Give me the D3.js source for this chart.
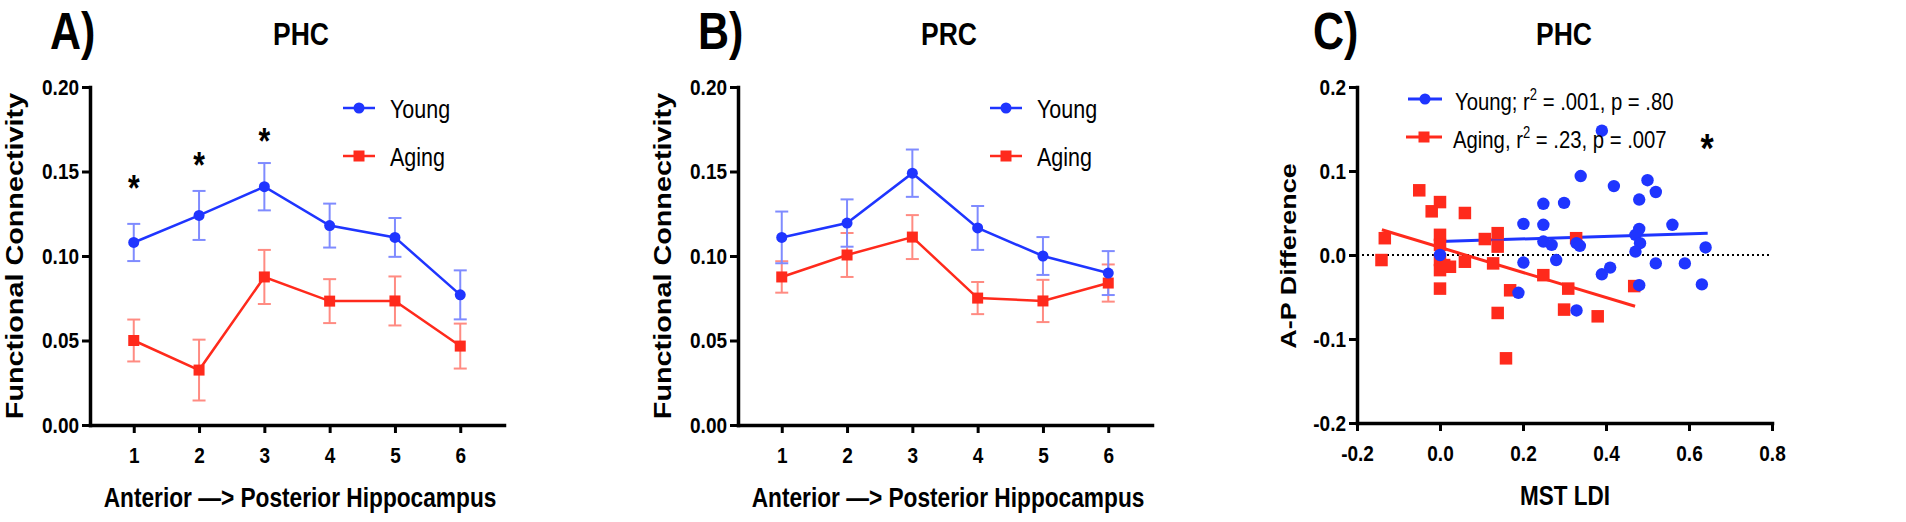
<!DOCTYPE html>
<html>
<head>
<meta charset="utf-8">
<script src="https://cdn.jsdelivr.net/npm/d3@7"></script>
<style>
body { margin: 0; background: #fff; }
svg { display: block; }
text { font-family: "Liberation Sans", Arial, sans-serif; fill: #000; }
</style>
</head>
<body>
<svg id="chart" width="1906" height="522"></svg>
<script>
// ---- data ----
var segments = [1, 2, 3, 4, 5, 6];

var phcYoung    = [0.108, 0.124, 0.141, 0.118, 0.111, 0.077];
var phcYoungSem = [0.011, 0.0145, 0.014, 0.013, 0.0115, 0.0145];
var phcAging    = [0.050, 0.0325, 0.0876, 0.0733, 0.0734, 0.0467];
var phcAgingSem = [0.0124, 0.018, 0.016, 0.013, 0.0145, 0.0133];

var prcYoung    = [0.111, 0.1195, 0.149, 0.1166, 0.100, 0.0899];
var prcYoungSem = [0.0153, 0.014, 0.014, 0.013, 0.0112, 0.013];
var prcAging    = [0.0876, 0.1006, 0.1112, 0.0751, 0.0734, 0.084];
var prcAgingSem = [0.0093, 0.013, 0.013, 0.0095, 0.0125, 0.011];

var phcStars     = [1, 2, 3];
var phcStarLevel = [0.143, 0.157, 0.171];

var fcTicks   = [0, 0.05, 0.10, 0.15, 0.20];
var ldiTicks  = [-0.2, 0, 0.2, 0.4, 0.6, 0.8];
var diffTicks = [-0.2, -0.1, 0, 0.1, 0.2];

var youngLDI  = [0.390, 0.339, 0.419, 0.500, 0.520, 0.480, 0.249, 0.299, 0.201, 0.249, 0.560,
                 0.249, 0.269, 0.329, 0.337, 0.480, 0.471, 0.482, 0.471, 0.640, 0.000,
                 0.201, 0.280, 0.390, 0.410, 0.520, 0.590, 0.189, 0.329, 0.480, 0.631];
var youngDiff = [0.148, 0.094, 0.082, 0.089, 0.075, 0.066, 0.061, 0.062, 0.037, 0.036, 0.036,
                 0.016, 0.012, 0.014, 0.011, 0.031, 0.024, 0.014, 0.004, 0.009, 0.000,
                 -0.009, -0.006, -0.023, -0.015, -0.010, -0.010, -0.045, -0.066, -0.036, -0.035];

var agingLDI  = [-0.050, 0.000, -0.020, 0.060, -0.133, 0.000, 0.108, 0.139, 0.139, 0.328,
                 -0.141, 0.000, 0.000, 0.024, 0.010, 0.060, 0.128, 0.169, 0.139, 0.159,
                 0.249, 0.309, 0.299, 0.380, 0.468, 0.000, 0.000];
var agingDiff = [0.077, 0.063, 0.052, 0.050, 0.020, 0.024, 0.019, 0.026, 0.010, 0.020,
                 -0.006, -0.006, -0.018, -0.014, -0.012, -0.008, -0.010, -0.042, -0.069, -0.123,
                 -0.024, -0.040, -0.065, -0.073, -0.037, -0.040, 0.012];

var youngFitX = [0.0, 0.645], youngFitY = [0.016, 0.026];
var agingFitX = [-0.14, 0.47], agingFitY = [0.030, -0.061];

// ---- styling ----
var BLUE = "#1f35ff", RED = "#ff2a1c";
var BLUE_ERR = "#7f8bff", RED_ERR = "#ff8b82";
var K = 1.2; // glyphs in the figure are a bit taller than wide

var svg = d3.select("#chart");

function txt(parent, x, y, s, fs, weight, anchor, rot) {
    return parent.append("text")
        .attr("transform", "translate(" + x + "," + y + ") scale(1," + K + ")" + (rot ? " rotate(-90)" : ""))
        .attr("font-size", fs)
        .attr("font-weight", weight || "bold")
        .attr("text-anchor", anchor || "start")
        .text(s);
}

function styleAxis(g) {
    g.attr("font-family", null).attr("font-size", 19).attr("font-weight", "bold");
    g.select(".domain").attr("stroke", "#000").attr("stroke-width", 3.5).attr("stroke-linecap", "square");
    g.selectAll(".tick line").attr("stroke", "#000").attr("stroke-width", 3);
    g.selectAll(".tick text").attr("fill", "#000")
        .attr("transform", "scale(1," + K + ")");
}

function square(sel, x, y, s, color) {
    sel.attr("x", function(d, i) { return x(d, i) - s / 2; })
       .attr("y", function(d, i) { return y(d, i) - s / 2; })
       .attr("width", s).attr("height", s)
       .attr("fill", color);
}

function linePanel(left, title, letter, young, youngSem, aging, agingSem, legendX) {
    var x = d3.scaleLinear().domain([0.33, 6.67]).range([left, left + 414]);
    var y = d3.scaleLinear().domain([0, 0.2]).range([425, 87]);
    var g = svg.append("g");

    var series = [
        { mean: aging, sem: agingSem, color: RED, err: RED_ERR, shape: "square" },
        { mean: young, sem: youngSem, color: BLUE, err: BLUE_ERR, shape: "circle" }
    ];

    series.forEach(function(s) {
        var eb = g.append("g").attr("stroke", s.err).attr("stroke-width", 2).attr("fill", "none");
        segments.forEach(function(p, i) {
            var cx = x(p), top = y(s.mean[i] + s.sem[i]), bot = y(s.mean[i] - s.sem[i]);
            eb.append("line").attr("x1", cx).attr("x2", cx).attr("y1", top).attr("y2", bot);
            eb.append("line").attr("x1", cx - 6.5).attr("x2", cx + 6.5).attr("y1", top).attr("y2", top);
            eb.append("line").attr("x1", cx - 6.5).attr("x2", cx + 6.5).attr("y1", bot).attr("y2", bot);
        });
    });

    series.forEach(function(s) {
        g.append("path")
            .datum(segments)
            .attr("fill", "none").attr("stroke", s.color).attr("stroke-width", 2.5)
            .attr("d", d3.line().x(function(d) { return x(d); })
                               .y(function(d, i) { return y(s.mean[i]); }));
        if (s.shape == "circle") {
            g.selectAll(null).data(segments).enter().append("circle")
                .attr("cx", function(d) { return x(d); })
                .attr("cy", function(d, i) { return y(s.mean[i]); })
                .attr("r", 5.5).attr("fill", s.color);
        } else {
            g.selectAll(null).data(segments).enter().append("rect")
                .call(square, function(d) { return x(d); }, function(d, i) { return y(s.mean[i]); }, 11, s.color);
        }
    });

    g.append("g").attr("transform", "translate(" + left + ",0)")
        .call(d3.axisLeft(y).tickValues(fcTicks).tickFormat(d3.format(".2f")).tickSize(8).tickSizeOuter(0).tickPadding(3))
        .call(styleAxis);
    g.append("g").attr("transform", "translate(0,425)")
        .call(d3.axisBottom(x).tickValues(segments).tickFormat(d3.format("d")).tickSize(8).tickSizeOuter(0).tickPadding(10))
        .call(styleAxis);

    // legend
    var ly = [108, 156];
    g.append("line").attr("x1", legendX).attr("x2", legendX + 32).attr("y1", ly[0]).attr("y2", ly[0])
        .attr("stroke", BLUE).attr("stroke-width", 2.5);
    g.append("circle").attr("cx", legendX + 16).attr("cy", ly[0]).attr("r", 5.5).attr("fill", BLUE);
    g.append("line").attr("x1", legendX).attr("x2", legendX + 32).attr("y1", ly[1]).attr("y2", ly[1])
        .attr("stroke", RED).attr("stroke-width", 2.5);
    g.append("rect").attr("x", legendX + 10.5).attr("y", ly[1] - 5.5).attr("width", 11).attr("height", 11).attr("fill", RED);
    txt(g, legendX + 47, ly[0] + 10, "Young", 21.5, "normal");
    txt(g, legendX + 47, ly[1] + 10, "Aging", 21.5, "normal");

    // titles
    var mid = (x.range()[0] + x.range()[1]) / 2;
    txt(g, mid + 4, 45, title, 26.5, "bold", "middle");
    txt(g, left - 40, 49, letter, 43, "bold");
    txt(g, left - 67, 256, "Functional Connectivity", 24, "bold", "middle", true);
    txt(g, mid + 3, 507, "Anterior \u2014> Posterior Hippocampus", 22.7, "bold", "middle");

    return { x: x, y: y, g: g };
}

var A = linePanel(90, "PHC", "A)", phcYoung, phcYoungSem, phcAging, phcAgingSem, 343);
linePanel(738, "PRC", "B)", prcYoung, prcYoungSem, prcAging, prcAgingSem, 990);

// significance stars on panel A
phcStars.forEach(function(p, i) {
    txt(A.g, A.x(p), A.y(phcStarLevel[i]) + 0.5 * 30 * K, "*", 30, "bold", "middle");
});

// ---- panel C: scatter ----
(function() {
    var x = d3.scaleLinear().domain([-0.2, 0.8]).range([1357, 1772]);
    var y = d3.scaleLinear().domain([-0.2, 0.2]).range([423, 87]);
    var g = svg.append("g");

    g.append("line").attr("x1", x(-0.2)).attr("x2", x(0.8)).attr("y1", y(0)).attr("y2", y(0))
        .attr("stroke", "#000").attr("stroke-width", 2).attr("stroke-dasharray", "2,3");

    g.append("line").attr("x1", x(youngFitX[0])).attr("x2", x(youngFitX[1]))
        .attr("y1", y(youngFitY[0])).attr("y2", y(youngFitY[1]))
        .attr("stroke", BLUE).attr("stroke-width", 3);
    g.append("line").attr("x1", x(agingFitX[0])).attr("x2", x(agingFitX[1]))
        .attr("y1", y(agingFitY[0])).attr("y2", y(agingFitY[1]))
        .attr("stroke", RED).attr("stroke-width", 3);

    g.selectAll(".ag").data(agingLDI).enter().append("rect")
        .call(square, function(d) { return x(d); }, function(d, i) { return y(agingDiff[i]); }, 12.5, RED);
    g.selectAll(".yg").data(youngLDI).enter().append("circle")
        .attr("cx", function(d) { return x(d); })
        .attr("cy", function(d, i) { return y(youngDiff[i]); })
        .attr("r", 6.2).attr("fill", BLUE);

    g.append("g").attr("transform", "translate(1357,0)")
        .call(d3.axisLeft(y).tickValues(diffTicks).tickFormat(function(d) { return d.toFixed(1); })
              .tickSize(8).tickSizeOuter(0).tickPadding(3))
        .call(styleAxis);
    g.append("g").attr("transform", "translate(0,423)")
        .call(d3.axisBottom(x).tickValues(ldiTicks).tickFormat(function(d) { return d.toFixed(1); })
              .tickSize(8).tickSizeOuter(0).tickPadding(10))
        .call(styleAxis);

    // legend
    g.append("line").attr("x1", 1408).attr("x2", 1442).attr("y1", 99).attr("y2", 99)
        .attr("stroke", BLUE).attr("stroke-width", 3);
    g.append("circle").attr("cx", 1425).attr("cy", 99).attr("r", 5.5).attr("fill", BLUE);
    g.append("line").attr("x1", 1406).attr("x2", 1442).attr("y1", 137).attr("y2", 137)
        .attr("stroke", RED).attr("stroke-width", 3);
    g.append("rect").attr("x", 1418.5).attr("y", 131.5).attr("width", 11).attr("height", 11).attr("fill", RED);

    var t1 = txt(g, 1455, 110, "Young; r", 20.3, "normal");
    t1.append("tspan").attr("font-size", 13).attr("dy", -8).text("2");
    t1.append("tspan").attr("dy", 8).text(" = .001, p = .80");
    var t2 = txt(g, 1453, 148, "Aging, r", 20.3, "normal");
    t2.append("tspan").attr("font-size", 13).attr("dy", -8).text("2");
    t2.append("tspan").attr("dy", 8).text(" = .23, p = .007");
    txt(g, 1707, 142 + 0.48 * 34 * K, "*", 34, "bold", "middle");

    txt(g, 1564, 45, "PHC", 26.5, "bold", "middle");
    txt(g, 1313, 49, "C)", 43, "bold");
    txt(g, 1296, 256, "A-P Difference", 22.5, "bold", "middle", true);
    txt(g, 1565, 505, "MST LDI", 22.5, "bold", "middle");
})();
</script>
</body>
</html>
